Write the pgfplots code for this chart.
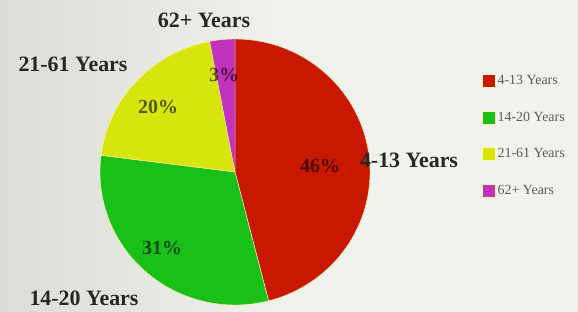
\documentclass[border=0pt]{standalone}
\usepackage{pgfplots}
\pgfplotsset{compat=1.18}
\usepackage{fontspec}
\setmainfont{Liberation Serif}
\definecolor{cred}{HTML}{C81800}
\definecolor{cgreen}{HTML}{18C018}
\definecolor{cyellow}{HTML}{D6E60C}
\definecolor{cmag}{HTML}{C232BA}
\definecolor{bgA}{HTML}{DCDCD8}
\definecolor{bgB}{HTML}{F2F2EC}
\definecolor{legtext}{HTML}{5A5A5A}
% slice shares in percent
\def\pA{46}\def\pB{31}\def\pC{20}\def\pD{3}
\pgfmathsetmacro\aA{90-3.6*\pA}
\pgfmathsetmacro\aB{\aA-3.6*\pB}
\pgfmathsetmacro\aC{\aB-3.6*\pC}
\pgfmathsetmacro\aD{\aC-3.6*\pD}
\begin{document}
\begin{tikzpicture}
\begin{axis}[
  width=578bp, height=312bp, scale only axis,
  xmin=0, xmax=578, ymin=0, ymax=312,
  axis line style={draw=none}, xtick=\empty, ytick=\empty,
  axis background/.style={left color=bgA, right color=bgB, middle color=bgB},
  clip=false,
  legend cell align=left,
  legend style={draw=none, fill=none, at={(482/578,239/312)}, anchor=north west,
    inner sep=0pt, row sep=22bp, font=\fontsize{14}{16}\selectfont, text=legtext,
    nodes={inner sep=2pt}},
  legend image code/.code={\fill[#1] (0bp,-6.5bp) rectangle (13bp,6.5bp);},
]
\addplot[fill=cred, draw=white!70!yellow, line width=0.4pt, domain=\aA:90, samples=90, variable=\t]
  ({235+135*cos(\t)},{140+133*sin(\t)}) -- (235,140) -- cycle;
\addlegendentry{4-13 Years}
\addplot[fill=cgreen, draw=white!70!yellow, line width=0.4pt, domain=\aB:\aA, samples=70, variable=\t]
  ({235+135*cos(\t)},{140+133*sin(\t)}) -- (235,140) -- cycle;
\addlegendentry{14-20 Years}
\addplot[fill=cyellow, draw=white!70!yellow, line width=0.4pt, domain=\aC:\aB, samples=50, variable=\t]
  ({235+135*cos(\t)},{140+133*sin(\t)}) -- (235,140) -- cycle;
\addlegendentry{21-61 Years}
\addplot[fill=cmag, draw=white!70!yellow, line width=0.4pt, domain=\aD:\aC, samples=10, variable=\t]
  ({235+135*cos(\t)},{140+133*sin(\t)}) -- (235,140) -- cycle;
\addlegendentry{62+ Years}

\begin{scope}[every node/.style={font=\bfseries\fontsize{20}{22}\selectfont, text=black, text opacity=0.62}]
\node at (axis cs:320,146) {\pA\%};
\node at (axis cs:162,64) {\pB\%};
\node at (axis cs:158,205) {\pC\%};
\node at (axis cs:224,237) {\pD\%};
\end{scope}
\begin{scope}[every node/.style={font=\bfseries\fontsize{22}{25}\selectfont, text=black!85}]
\node at (axis cs:204,292) {62+ Years};
\node at (axis cs:73,248) {21-61 Years};
\node at (axis cs:409,152) {4-13 Years};
\node at (axis cs:84,14) {14-20 Years};
\end{scope}
\end{axis}
\end{tikzpicture}
\end{document}
